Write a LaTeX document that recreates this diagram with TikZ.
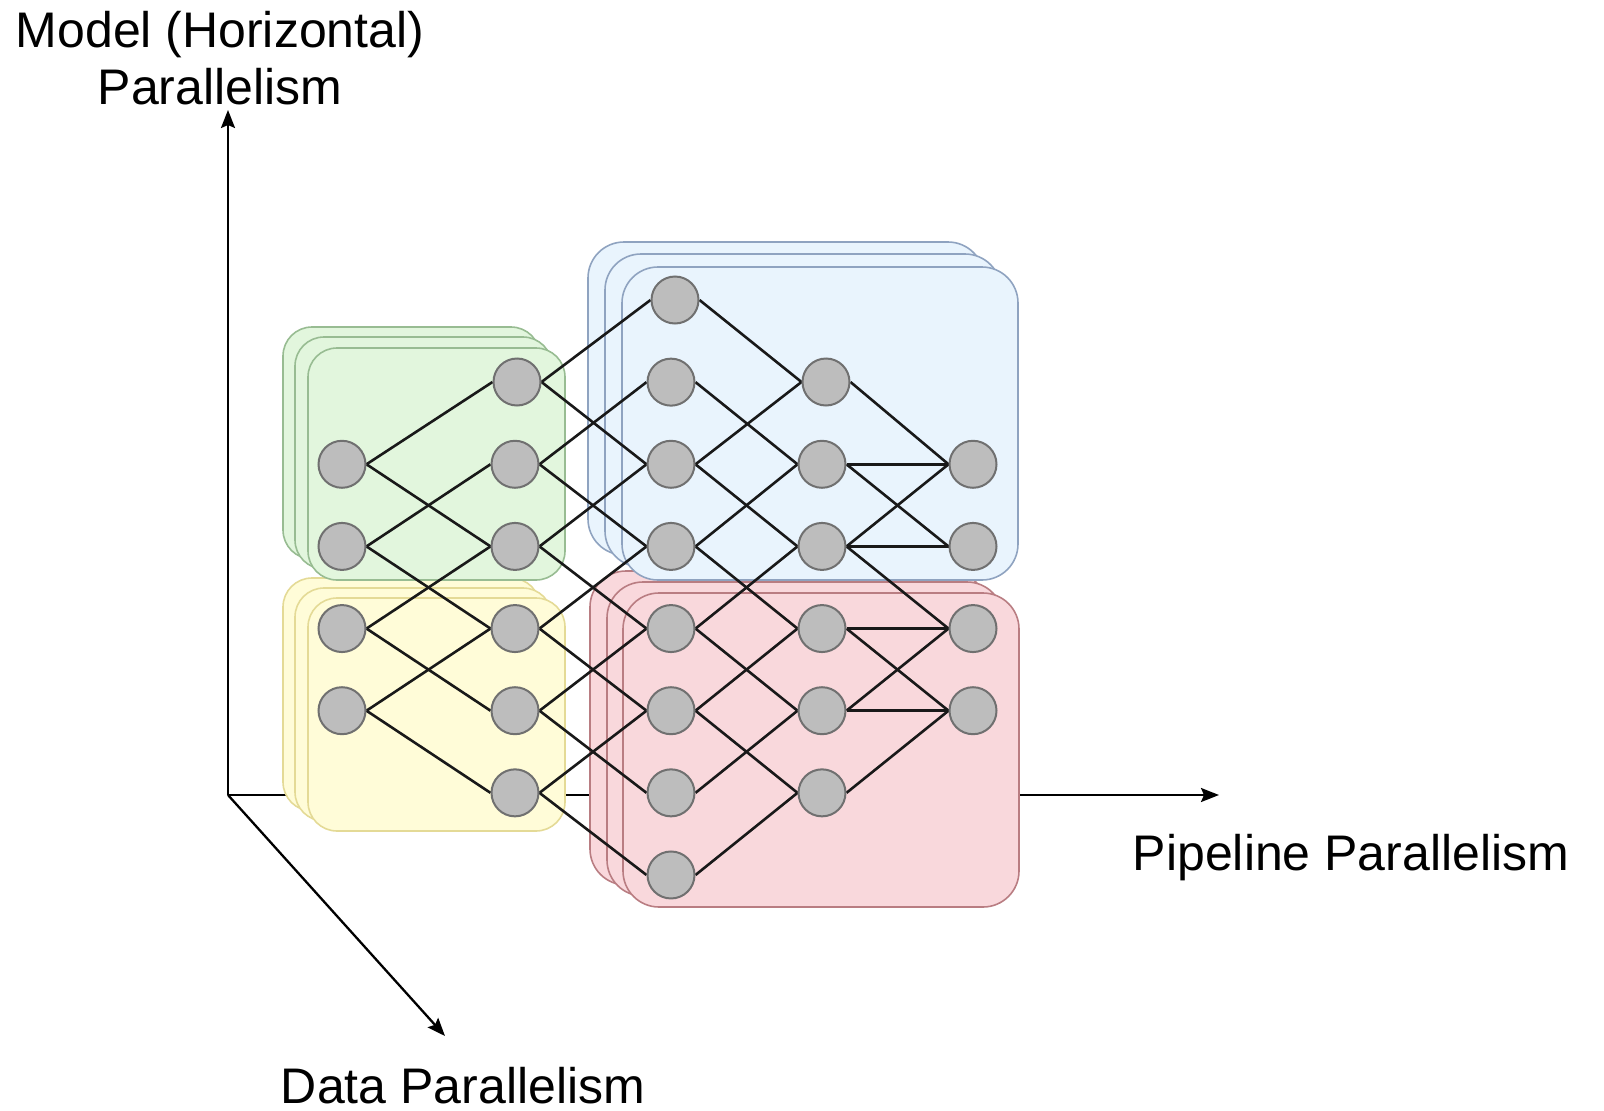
\documentclass[tikz,border=0pt]{standalone}
\usepackage{fontspec}
\setmainfont{Liberation Sans}
\usetikzlibrary{arrows.meta}
\pgfdeclarelayer{bg}
\pgfdeclarelayer{edges}
\pgfsetlayers{bg,edges,main}
\definecolor{gfill}{RGB}{226,246,221}
\definecolor{gline}{RGB}{152,188,146}
\definecolor{yfill}{RGB}{255,252,216}
\definecolor{yline}{RGB}{228,218,150}
\definecolor{bfill}{RGB}{233,244,253}
\definecolor{bline}{RGB}{143,163,192}
\definecolor{rfill}{RGB}{249,216,220}
\definecolor{rline}{RGB}{185,125,130}
\definecolor{nfill}{RGB}{189,189,189}
\definecolor{nline}{RGB}{112,112,112}
\definecolor{edgecol}{RGB}{25,25,25}
\begin{document}
\begin{tikzpicture}[x=1pt,y=-1pt,
  nd/.style={circle,fill=nfill,draw=nline,line width=2pt,minimum size=47pt,inner sep=0pt},
  conn/.style={draw=edgecol,line width=2.6pt},
  axis/.style={draw=black,line width=2.3pt,-{Stealth[length=18pt,width=14pt,inset=3pt]}},
  lbl/.style={anchor=base,inner sep=0pt,font=\fontsize{50}{60}\selectfont},
  gbox/.style={fill=gfill,draw=gline,line width=1.6pt,rounded corners=29pt},
  ybox/.style={fill=yfill,draw=yline,line width=1.6pt,rounded corners=29pt},
  bbox/.style={fill=bfill,draw=bline,line width=1.6pt,rounded corners=36pt},
  rbox/.style={fill=rfill,draw=rline,line width=1.6pt,rounded corners=36pt}]
\useasboundingbox (0,0) rectangle (1604,1111);

% nodes
\foreach \r in {2,3,4,5} \node[nd] (A\r) at (342,{300+82.14*\r}) {};
\foreach \r in {2,3,4,5,6} \node[nd] (B\r) at (515,{300+82.14*\r}) {};
\node[nd] (B1) at (517,382) {};
\foreach \r in {1,2,3,4,5,6,7} \node[nd] (C\r) at (671,{300+82.14*\r}) {};
\node[nd] (C0) at (675,300) {};
\foreach \r in {2,3,4,5,6} \node[nd] (D\r) at (822,{300+82.14*\r}) {};
\node[nd] (D1) at (826,382) {};
\foreach \r in {2,3,4,5} \node[nd] (E\r) at (973,{300+82.14*\r}) {};

% axes and boxes
\begin{pgfonlayer}{bg}
\coordinate (O) at (228,795);
\coordinate (Yend) at (228,110);
\coordinate (Xend) at (1219,795);
\coordinate (Zend) at (445,1036);
\draw[axis] (O) -- (Yend);
\draw[axis] (O) -- (Xend);
\draw[axis] (O) -- (Zend);
% yellow stack
\path[ybox] (283,578) rectangle (540,811);
\path[ybox] (295,588) rectangle (552,821);
\path[ybox] (308,598) rectangle (565,831);
% green stack
\path[gbox] (283,327) rectangle (540,559);
\path[gbox] (295,337) rectangle (552,569);
\path[gbox] (308,348) rectangle (565,580);
% red stack
\path[rbox] (590,571) rectangle (986,885);
\path[rbox] (607,582) rectangle (1003,896);
\path[rbox] (623,593) rectangle (1019,907);
% blue stack
\path[bbox] (588,242) rectangle (984,555);
\path[bbox] (605,254) rectangle (1001,567);
\path[bbox] (622,267) rectangle (1018,580);
\end{pgfonlayer}

% connectors
\begin{pgfonlayer}{edges}
\foreach \a/\b in {A2/B1,A2/B3,A3/B2,A3/B4,A4/B3,A4/B5,A5/B4,A5/B6,
  B1/C0,B1/C2,B2/C1,B2/C3,B3/C2,B3/C4,B4/C3,B4/C5,B5/C4,B5/C6,B6/C5,B6/C7,
  C0/D1,C1/D2,C2/D1,C2/D3,C3/D2,C3/D4,C4/D3,C4/D5,C5/D4,C5/D6,C6/D5,C7/D6,
  D1/E2,D2/E2,D2/E3,D3/E2,D3/E3,D3/E4,D4/E4,D4/E5,D5/E4,D5/E5,D6/E5}
  \draw[conn] (\a.east) -- (\b.west);
\end{pgfonlayer}

% labels
\node[lbl] (lm1) at (220,47) {Model (Horizontal)};
\node[lbl] (lm2) at (220,104) {Parallelism};
\node[lbl] (lp) at (1351,870) {Pipeline Parallelism};
\node[lbl] (ld) at (463,1103) {Data Parallelism};
\end{tikzpicture}
\end{document}
